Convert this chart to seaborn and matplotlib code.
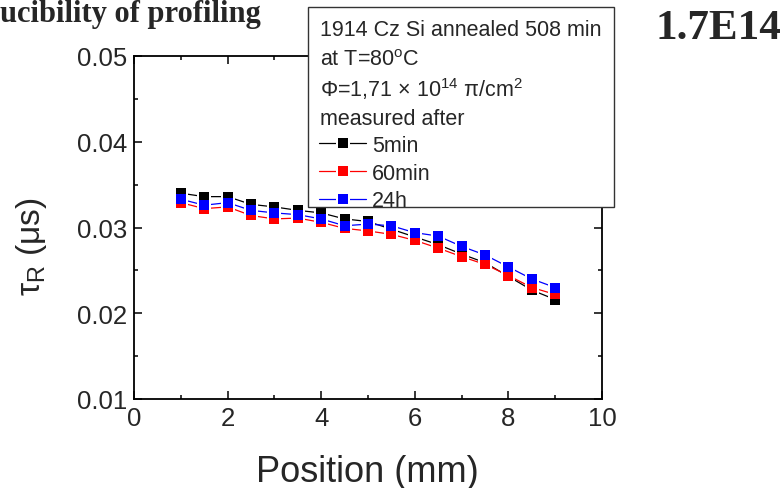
import matplotlib
matplotlib.use("Agg")
import matplotlib.pyplot as plt
import seaborn as sns
import pandas as pd
from matplotlib.lines import Line2D
from matplotlib.patches import Rectangle
from matplotlib.ticker import MultipleLocator

# ---- data ----
position = [1, 1.5, 2, 2.5, 3, 3.5, 4, 4.5, 5, 5.5, 6, 6.5, 7, 7.5, 8, 8.5, 9]
tau_5min = [0.0340, 0.0336, 0.0336, 0.0327, 0.0324, 0.0320, 0.0317, 0.0310, 0.0307,
            0.0298, 0.0289, 0.0280, 0.0269, 0.0259, 0.0243, 0.0227, 0.0216]
tau_60min = [0.0329, 0.0322, 0.0324, 0.0314, 0.0310, 0.0311, 0.0306, 0.0299, 0.0296,
             0.0292, 0.0285, 0.0276, 0.0266, 0.0257, 0.0244, 0.0230, 0.0222]
tau_24h = [0.0333, 0.0326, 0.0329, 0.0320, 0.0317, 0.0315, 0.0310, 0.0302, 0.0304,
           0.0302, 0.0294, 0.0290, 0.0278, 0.0268, 0.0254, 0.0240, 0.0230]
series_names = ["5min", "60min", "24h"]
series_colors = ["#000000", "#ff0000", "#0000ff"]
x_ticks = [0, 2, 4, 6, 8, 10]
y_ticks = [0.01, 0.02, 0.03, 0.04, 0.05]
header_lines = ["1914 Cz Si annealed 508 min",
                r"at T=80$^{\mathregular{o}}$C",
                r"$\mathregular{\Phi}$=1,71 $\mathregular{\times}$ 10$^{\mathregular{14}}$ $\mathregular{\pi}$/cm$^{\mathregular{2}}$",
                "measured after"]

sns.set_style("ticks")
plt.rcParams["font.family"] = ["Liberation Sans", "DejaVu Sans"]
plt.rcParams["mathtext.fontset"] = "custom"
plt.rcParams["mathtext.rm"] = "Liberation Sans"
plt.rcParams["mathtext.it"] = "Liberation Sans:italic"

W, H = 784, 489
fig = plt.figure(figsize=(W/100, H/100), dpi=100)
ax = fig.add_axes([134/W, 1-400/H, (602-134)/W, (400-57)/H])

n = len(position)
df = pd.DataFrame({
    "pos": position * 3,
    "tau": tau_5min + tau_60min + tau_24h,
    "series": [series_names[0]]*n + [series_names[1]]*n + [series_names[2]]*n,
})

MS = 7.3       # marker size (pt)
GAP_MS = 10.5  # white gap square around markers (pt)

for name, col in zip(series_names, series_colors):
    sub = df[df["series"] == name]
    sns.lineplot(data=sub, x="pos", y="tau", ax=ax, color=col, linewidth=0.9,
                 legend=False, zorder=1)
for name in series_names:
    sub = df[df["series"] == name]
    sns.scatterplot(data=sub, x="pos", y="tau", ax=ax, color="white", marker="s",
                    s=GAP_MS**2, linewidth=0, legend=False, zorder=2)
for name, col in zip(series_names, series_colors):
    sub = df[df["series"] == name]
    sns.scatterplot(data=sub, x="pos", y="tau", ax=ax, color=col, marker="s",
                    s=MS**2, linewidth=0, legend=False, zorder=3)

ax.set_xlim(0, 10)
ax.set_ylim(0.01, 0.05)
ax.set_xticks(x_ticks)
ax.set_xticklabels([str(v) for v in x_ticks])
ax.set_yticks(y_ticks)
ax.set_yticklabels([f"{v:.2f}" for v in y_ticks])
ax.xaxis.set_minor_locator(MultipleLocator(1))
ax.yaxis.set_minor_locator(MultipleLocator(0.005))
ax.tick_params(which="both", direction="in", top=True, right=True, width=1.1, color="black")
ax.tick_params(which="major", length=6, labelsize=18.5, pad=5)
ax.tick_params(which="minor", length=3)
for s in ax.spines.values():
    s.set_linewidth(1.3)
    s.set_color("black")

ax.set_xlabel("Position (mm)", fontsize=26)
ax.xaxis.set_label_coords(0.499, -0.16)
ax.set_ylabel(r"$\mathregular{\tau_R}$ ($\mathregular{\mu}$s)", fontsize=24)
ax.yaxis.label.set_va("center")
ax.yaxis.set_label_coords(-0.218, 0.446)

# legend box (frame + header text + entries)
box = Rectangle((308/W, 1-208/H), (614-308)/W, (208-8)/H, transform=fig.transFigure,
                facecolor="white", edgecolor="#333333", linewidth=1.0, zorder=5)
fig.add_artist(box)
for txt, base in zip(header_lines, [36, 66.5, 97, 125]):
    fig.text(320/W, 1-base/H, txt, ha="left", va="baseline", fontsize=15.5, zorder=6)

handles = []
for c in series_colors:
    ln = Line2D([], [], color=c, linewidth=0.9)
    gap = Line2D([], [], color="white", marker="s", markersize=GAP_MS, markeredgewidth=0, linestyle="")
    mk = Line2D([], [], color=c, marker="s", markersize=MS, markeredgewidth=0, linestyle="")
    handles.append((ln, gap, mk))
leg = fig.legend(handles, series_names, loc="upper left",
                 bbox_to_anchor=(319/W, 1-136/H), bbox_transform=fig.transFigure,
                 borderaxespad=0, borderpad=0, fontsize=15.5, frameon=False,
                 handlelength=2.2, handletextpad=0.25, labelspacing=0.31)
leg.set_zorder(7)

fig.text(0.0, 1-22/H, "ucibility of profiling", ha="left", va="baseline",
         fontsize=22, fontweight="bold", family="Liberation Serif")
fig.text(781/W, 1-39/H, "1.7E14", ha="right", va="baseline",
         fontsize=31, fontweight="bold", family="Liberation Serif")

fig.savefig("out.png", dpi=100)
